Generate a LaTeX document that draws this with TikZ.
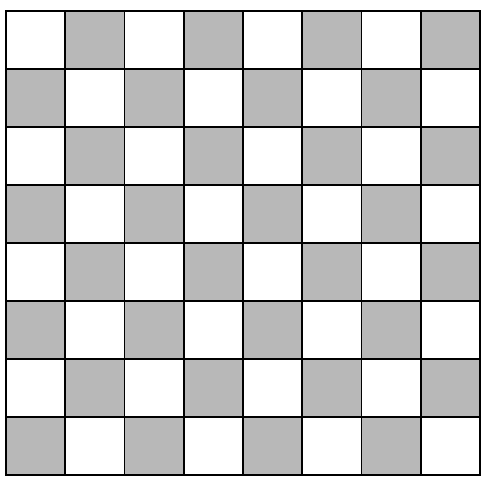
\documentclass[tikz,border=0pt]{standalone}
\usepackage{tikz}
\usepackage{xcolor}
\definecolor{squaregray}{gray}{0.72}

\begin{document}
\begin{tikzpicture}[x=1pt, y=-1pt]
    % Page frame (reference proportions)
    \useasboundingbox (0,0) rectangle (481,476);
    \fill[white] (0,0) rectangle (481,476);

    % Board: 8 x 8 squares, top-left square white
    \begin{scope}[shift={(6,11)}, x=59.25pt, y=-58pt]
        % Gray squares
        \foreach \row in {0,...,7} {
            \foreach \col in {0,...,7} {
                \pgfmathparse{int(mod(\row+\col,2))}
                \ifnum\pgfmathresult=1
                    \fill[squaregray] (\col,\row) rectangle (\col+1,\row+1);
                \fi
            }
        }
        % Grid lines
        \foreach \i in {1,...,7} {
            \draw[black, line width=1.6pt] (\i,0) -- (\i,8);
            \draw[black, line width=1.6pt] (0,\i) -- (8,\i);
        }
        \draw[black, line width=1.8pt] (0,0) rectangle (8,8);
    \end{scope}
\end{tikzpicture}
\end{document}
